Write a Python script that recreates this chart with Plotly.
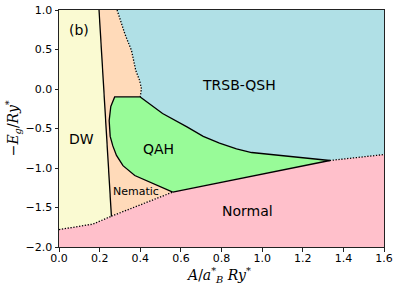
import plotly.graph_objects as go

# ---- phase boundaries (data coordinates) ----
dw_nem_x = [0.197, 0.258]
dw_nem_y = [1.0, -1.61]

dw_norm_x = [0.0, 0.167, 0.258]
dw_norm_y = [-1.78, -1.71, -1.61]

nem_norm_x = [0.258, 0.56]
nem_norm_y = [-1.61, -1.305]

qah_norm_x = [0.56, 0.693, 0.89, 1.333]
qah_norm_y = [-1.305, -1.235, -1.129, -0.905]

qsh_norm_x = [1.333, 1.6]
qsh_norm_y = [-0.905, -0.83]

qah_qsh_x = [0.40, 0.51, 0.63, 0.71, 0.79, 0.874, 0.948, 1.333]
qah_qsh_y = [-0.10, -0.31, -0.48, -0.60, -0.686, -0.757, -0.804, -0.905]

qah_left_x = [0.40, 0.274, 0.255, 0.247, 0.252, 0.265, 0.283, 0.315, 0.373, 0.447, 0.56]
qah_left_y = [-0.10, -0.10, -0.22, -0.40, -0.60, -0.72, -0.84, -0.97, -1.095, -1.18, -1.305]

nem_qsh_x = [0.286, 0.324, 0.357, 0.378, 0.397, 0.406, 0.40]
nem_qsh_y = [1.0, 0.70, 0.487, 0.234, 0.108, 0.003, -0.10]

x_range = [0.0, 1.6]
y_range = [-2.0, 1.0]

phase_names = ["DW", "Nematic", "QAH", "TRSB-QSH", "Normal"]
phase_label_x = [0.11, 0.381, 0.49, 0.885, 0.93]
phase_label_y = [-0.63, -1.30, -0.757, 0.057, -1.55]
phase_colors = ["#FAFAD2", "#FFDAB9", "#98FB98", "#B0E0E6", "#FFC0CB"]

x_ticks = [0.0, 0.2, 0.4, 0.6, 0.8, 1.0, 1.2, 1.4, 1.6]
y_ticks = [-2.0, -1.5, -1.0, -0.5, 0.0, 0.5, 1.0]

R = lambda a: list(reversed(a))

# ---- region polygons built from boundaries ----
x0, x1 = x_range
y0, y1 = y_range
dw_x = [x0] + dw_nem_x + R(dw_norm_x)
dw_y = [y1] + dw_nem_y + R(dw_norm_y)

nem_x = dw_nem_x[:1] + nem_qsh_x + qah_left_x[1:] + R(nem_norm_x)[1:] + R(dw_nem_x)
nem_y = dw_nem_y[:1] + nem_qsh_y + qah_left_y[1:] + R(nem_norm_y)[1:] + R(dw_nem_y)

qah_x = qah_qsh_x + R(qah_norm_x) + R(qah_left_x)
qah_y = qah_qsh_y + R(qah_norm_y) + R(qah_left_y)

qsh_x = nem_qsh_x[:1] + [x1] + R(qsh_norm_x) + R(qah_qsh_x) + R(nem_qsh_x)
qsh_y = nem_qsh_y[:1] + [y1] + R(qsh_norm_y) + R(qah_qsh_y) + R(nem_qsh_y)

norm_x = [x0] + dw_norm_x + nem_norm_x + qah_norm_x + qsh_norm_x + [x1, x0]
norm_y = [y0] + dw_norm_y + nem_norm_y + qah_norm_y + qsh_norm_y + [y0, y0]

fig = go.Figure()
for (px, py), col in zip([(dw_x, dw_y), (nem_x, nem_y), (qah_x, qah_y),
                          (qsh_x, qsh_y), (norm_x, norm_y)], phase_colors):
    fig.add_trace(go.Scatter(x=px, y=py, mode="lines", fill="toself",
                             fillcolor=col, line=dict(width=0, color=col),
                             hoverinfo="skip", showlegend=False))

solid = [(dw_nem_x, dw_nem_y), (qah_norm_x, qah_norm_y),
         (qah_qsh_x, qah_qsh_y), (qah_left_x, qah_left_y)]
dotted = [(dw_norm_x, dw_norm_y), (nem_norm_x, nem_norm_y),
          (qsh_norm_x, qsh_norm_y), (nem_qsh_x, nem_qsh_y)]
for bx, by in solid:
    fig.add_trace(go.Scatter(x=bx, y=by, mode="lines",
                             line=dict(color="black", width=1.3),
                             hoverinfo="skip", showlegend=False))
for bx, by in dotted:
    fig.add_trace(go.Scatter(x=bx, y=by, mode="lines",
                             line=dict(color="black", width=1.3, dash="1.3px,1.6px"),
                             hoverinfo="skip", showlegend=False))

font = "DejaVu Sans"
for name, lx, ly in zip(phase_names, phase_label_x, phase_label_y):
    fig.add_annotation(x=lx, y=ly, text=name, showarrow=False,
                       font=dict(family=font, size=11 if name == "Nematic" else 14,
                                 color="black"))
fig.add_annotation(x=0.097, y=0.75, text="(b)", showarrow=False,
                   font=dict(family=font, size=14, color="black"))

# axis titles
fig.add_annotation(xref="paper", yref="paper", x=0.49, y=-0.118,
                   text="<i>A</i>/<i>a</i><sup>*</sup><sub style='font-size:9px'><i>B</i></sub> <i>Ry</i><sup>*</sup>",
                   showarrow=False, xanchor="center", yanchor="middle",
                   font=dict(family="DejaVu Serif", size=14, color="black"))
fig.add_annotation(xref="paper", yref="paper", x=-0.142, y=0.5, textangle=-90,
                   text="−<i>E<sub>g</sub></i>/<i>Ry</i><sup>*</sup>",
                   showarrow=False, xanchor="center", yanchor="middle",
                   font=dict(family="DejaVu Serif", size=14, color="black"))

axis_common = dict(showgrid=False, zeroline=False, showline=True, linecolor="#222",
                   linewidth=1, mirror=True, ticks="outside", ticklen=3.5,
                   tickwidth=0.8, tickcolor="#222", automargin=False,
                   tickfont=dict(family=font, size=11, color="black"))
fig.update_xaxes(range=x_range, tickvals=x_ticks, tickformat=".1f",
                 ticklabelstandoff=-3, **axis_common)
fig.update_yaxes(range=y_range, tickvals=y_ticks, tickformat=".1f", **axis_common)

fig.update_layout(width=399, height=289, margin=dict(l=59, r=15, t=10, b=42),
                  plot_bgcolor="white", paper_bgcolor="white")

fig.write_html("out.html", config={"displayModeBar": False},
               post_script="document.body.style.margin='0';"
                           "document.body.style.overflow='hidden';")
